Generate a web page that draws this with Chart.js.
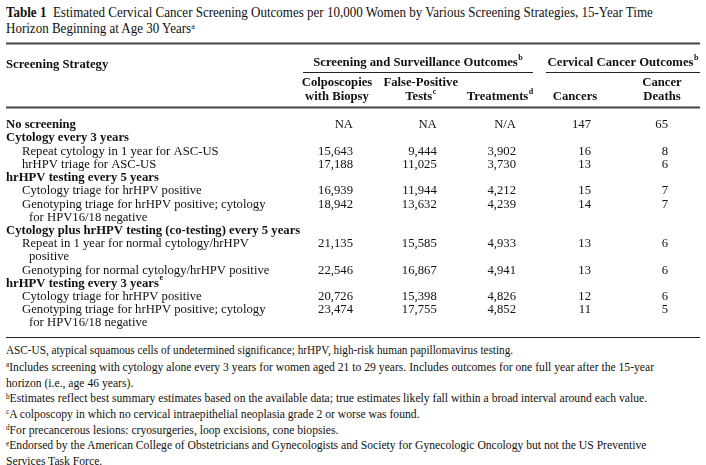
<!DOCTYPE html>
<html>
<head>
<meta charset="utf-8">
<script src="https://cdn.jsdelivr.net/npm/chart.js@4.4.1/dist/chart.umd.min.js"></script>
<style>
  body { margin: 0; width: 706px; height: 465px; overflow: hidden; background: #fff; color: #111;
         font-family: "Liberation Serif", "Times New Roman", serif; }
  #title { position: absolute; left: 6px; top: 5px; font-size: 14px; line-height: 16px;
           white-space: nowrap; transform: scaleX(0.93); transform-origin: 0 0; }
  #table { position: absolute; left: 0; top: 40px; }
  #notes { position: absolute; left: 6px; top: 343px; font-size: 12px; line-height: 15.6px; white-space: nowrap; }
  .abbr { transform: scaleX(0.935); transform-origin: 0 0; }
  .cond { transform: scaleX(0.895); transform-origin: 0 0; font-size: 13px; line-height: 15.67px; margin-top: 0.5px; }
  sup { font-size: 0.62em; line-height: 0; position: relative; top: -0.45em; vertical-align: baseline; }
</style>
</head>
<body>
<div id="title"><b>Table 1</b>&nbsp;&nbsp;Estimated Cervical Cancer Screening Outcomes per 10,000 Women by Various Screening Strategies, 15-Year Time<br>Horizon Beginning at Age 30 Years<sup>a</sup></div>
<div id="table"><canvas id="chart" width="706" height="302"></canvas></div>
<div id="notes">
  <div class="abbr">ASC-US, atypical squamous cells of undetermined significance; hrHPV, high-risk human papillomavirus testing.</div>
  <div class="cond"><sup>a</sup>Includes screening with cytology alone every 3 years for women aged 21 to 29 years. Includes outcomes for one full year after the 15-year<br>horizon (i.e., age 46 years).<br>
  <sup>b</sup>Estimates reflect best summary estimates based on the available data; true estimates likely fall within a broad interval around each value.<br>
  <sup>c</sup>A colposcopy in which no cervical intraepithelial neoplasia grade 2 or worse was found.<br>
  <sup>d</sup>For precancerous lesions: cryosurgeries, loop excisions, cone biopsies.<br>
  <sup>e</sup>Endorsed by the American College of Obstetricians and Gynecologists and Society for Gynecologic Oncology but not the US Preventive<br>Services Task Force.</div>
</div>
<script>
// rows of the table, wrapped labels split into lines
const strategies = [
    ['No screening'],
    ['Cytology every 3 years'],
    ['Repeat cytology in 1 year for ASC-US'],
    ['hrHPV triage for ASC-US'],
    ['hrHPV testing every 5 years'],
    ['Cytology triage for hrHPV positive'],
    ['Genotyping triage for hrHPV positive; cytology', 'for HPV16/18 negative'],
    ['Cytology plus hrHPV testing (co-testing) every 5 years'],
    ['Repeat in 1 year for normal cytology/hrHPV', 'positive'],
    ['Genotyping for normal cytology/hrHPV positive'],
    ['hrHPV testing every 3 years'],
    ['Cytology triage for hrHPV positive'],
    ['Genotyping triage for hrHPV positive; cytology', 'for HPV16/18 negative']
];
const strategyNotes = ['', '', '', '', '', '', '', '', '', '', 'e', '', ''];
const isGroup = [true, true, false, false, true, false, false, true, false, false, true, false, false];

const colposcopies   = ['NA', null, 15643, 17188, null, 16939, 18942, null, 21135, 22546, null, 20726, 23474];
const falsePositives = ['NA', null, 9444, 11025, null, 11944, 13632, null, 15585, 16867, null, 15398, 17755];
const treatments     = ['N/A', null, 3902, 3730, null, 4212, 4239, null, 4933, 4941, null, 4826, 4852];
const cancers        = [147, null, 16, 13, null, 15, 14, null, 13, 13, null, 12, 11];
const cancerDeaths   = [65, null, 8, 6, null, 7, 7, null, 6, 6, null, 6, 5];

const columnHeads = [['Colposcopies', 'with Biopsy'], ['False-Positive', 'Tests'], ['Treatments'], ['Cancers'], ['Cancer', 'Deaths']];
const columnNotes = ['', 'c', 'd', '', ''];
const groupHeads = ['Screening and Surveillance Outcomes', 'Cervical Cancer Outcomes'];
const groupNotes = ['b', 'b'];

const columns = [colposcopies, falsePositives, treatments, cancers, cancerDeaths];

// first text line of every row
const lineStart = [];
let line = 0;
strategies.forEach(s => { lineStart.push(line); line += s.length; });
const lineCount = line;

const FONT = '"Liberation Serif", "Times New Roman", serif';
const ink = '#111';
const bodySize = 12.7;
// small per-column shift of the right edge (layout only)
const colNudge = [0, 5, 5.5, 1.75, 0];
const headShift = [-16, -16, -16, -16, -6];

function drawText(ctx, text, note, x, y, align, bold, size) {
    size = size || bodySize;
    const main = (bold ? 'bold ' : '') + size + 'px ' + FONT;
    const noteFont = (bold ? 'bold ' : '') + Math.round(size * 0.62) + 'px ' + FONT;
    ctx.font = main;
    const w = ctx.measureText(text).width;
    let nw = 0;
    if (note) { ctx.font = noteFont; nw = ctx.measureText(note).width + 0.5; }
    let left = x;
    if (align === 'right') left = x - w - nw;
    if (align === 'center') left = x - (w + nw) / 2;
    ctx.textAlign = 'left';
    ctx.textBaseline = 'middle';
    ctx.font = main;
    ctx.fillText(text, left, y);
    if (note) {
        ctx.font = noteFont;
        ctx.fillText(note, left + w + 0.5, y - size * 0.4);
    }
}

function rule(ctx, x1, x2, y, width, color) {
    ctx.beginPath();
    ctx.moveTo(x1, y);
    ctx.lineTo(x2, y);
    ctx.lineWidth = width;
    ctx.strokeStyle = color;
    ctx.stroke();
}

const tableText = {
    id: 'tableText',
    afterDraw(chart) {
        const ctx = chart.ctx;
        const xs = chart.scales.x;
        const ys = chart.scales.y;
        const colX = c => xs.getPixelForValue(c + 1) + colNudge[c];
        ctx.save();
        ctx.fillStyle = ink;

        // rules
        const g1 = [colX(0) - 50, colX(2) + 17];
        const g2 = [colX(3) - 45, 700];
        rule(ctx, 6, 700, 3.5, 1.8, '#444');
        rule(ctx, g1[0], g1[1], 32.5, 1, '#222');
        rule(ctx, g2[0], g2[1], 32.5, 1, '#222');
        rule(ctx, 6, 700, 67.5, 1.8, '#444');
        rule(ctx, 6, 700, 297.5, 1, '#222');

        // header
        drawText(ctx, 'Screening Strategy', '', 6, 25, 'left', true);
        drawText(ctx, groupHeads[0], groupNotes[0], (g1[0] + g1[1]) / 2, 23, 'center', true);
        drawText(ctx, groupHeads[1], groupNotes[1], (g2[0] + g2[1]) / 2, 23, 'center', true);
        columnHeads.forEach((head, c) => {
            const cx = colX(c) + headShift[c];
            const top = head.length === 2 ? 43 : 57;
            head.forEach((t, j) => {
                drawText(ctx, t, j === head.length - 1 ? columnNotes[c] : '', cx, top + j * 14, 'center', true);
            });
        });

        // row labels
        strategies.forEach((lines, i) => {
            lines.forEach((t, j) => {
                const y = ys.getPixelForValue(lineStart[i] + j);
                const x = isGroup[i] ? 6 : (j === 0 ? 22 : 29);
                drawText(ctx, t, j === 0 ? strategyNotes[i] : '', x, y, 'left', isGroup[i]);
            });
        });

        // cell values
        chart.data.datasets.forEach((ds, d) => {
            chart.getDatasetMeta(d).data.forEach((el, k) => {
                const v = ds.data[k].v;
                const t = typeof v === 'number' ? v.toLocaleString('en-US') : v;
                drawText(ctx, t, '', el.x + colNudge[d], el.y, 'right', false);
            });
        });
        ctx.restore();
    }
};

new Chart(document.getElementById('chart'), {
    type: 'scatter',
    data: {
        datasets: columns.map((values, c) => ({
            label: columnHeads[c].join(' '),
            data: values.map((v, i) => v === null ? null : { x: c + 1, y: lineStart[i], v: v }).filter(p => p),
            pointRadius: 0,
            pointHoverRadius: 0
        }))
    },
    options: {
        responsive: false,
        animation: false,
        events: [],
        layout: { padding: { left: 353, right: 38, top: 85, bottom: 19 } },
        scales: {
            x: { type: 'linear', min: 1, max: 5, display: false },
            y: { type: 'linear', min: 0, max: lineCount - 1, reverse: true, display: false }
        },
        plugins: { legend: { display: false }, tooltip: { enabled: false } }
    },
    plugins: [tableText]
});
</script>
</body>
</html>
